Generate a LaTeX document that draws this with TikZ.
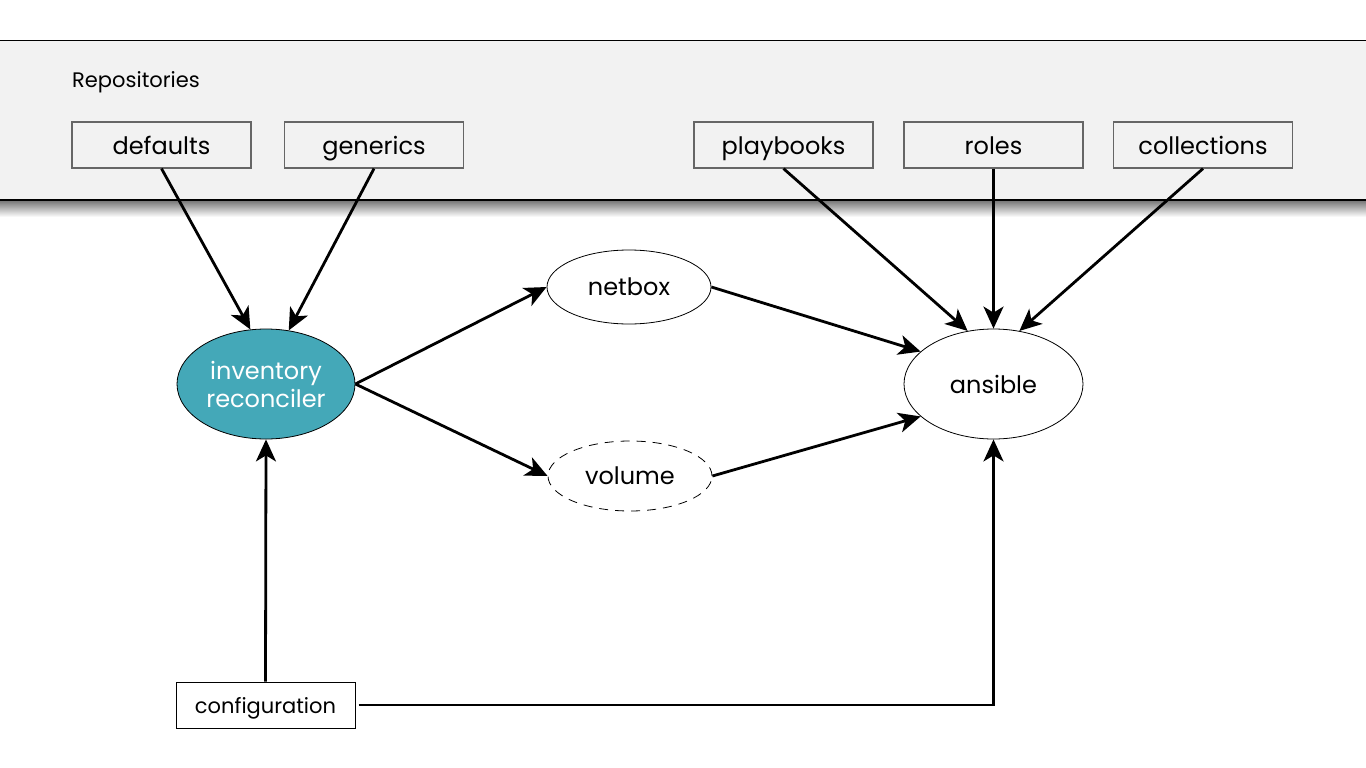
\documentclass[tikz,border=0pt]{standalone}
\usepackage{fontspec}
\setmainfont{Poppins}
\usetikzlibrary{arrows.meta,shapes.geometric}

\definecolor{teal}{HTML}{44A8B8}
\definecolor{band}{HTML}{F2F2F2}

\tikzstyle{repo} = [draw=black!60, line width=1.2pt, minimum width=179pt, minimum height=46pt, inner sep=0pt, text height=22pt, text depth=4pt, font=\fontsize{24}{28}\selectfont]
\tikzstyle{tool} = [draw, ellipse, line width=0.8pt, inner sep=0pt, font=\fontsize{24}{28}\selectfont]
\tikzstyle{arr} = [line width=2.8pt, -{Stealth[length=22pt,width=20pt,inset=6pt]}]

\begin{document}
\begin{tikzpicture}[x=1pt, y=-1pt]
\useasboundingbox (0,0) rectangle (1366,768);
%\draw[step=50, very thin,black!20] (0,0) grid (1366,768);
% repositories band
\fill[band] (-5,40) rectangle (1371,200);
\shade[top color=black!55, bottom color=white] (-5,200) rectangle (1371,217);
\draw[line width=0.8pt] (-5,40) -- (1371,40);
\draw[line width=1.5pt] (-5,200) -- (1371,200);
\node[anchor=west, inner sep=0pt, font=\fontsize{21}{24}\selectfont] (repos) at (72,82) {Repositories};

\node[repo] (defaults) at (161.5,145) {defaults};
\node[repo] (generics) at (374,145) {generics};
\node[repo] (playbooks) at (783.5,145) {playbooks};
\node[repo] (roles) at (993.5,145) {roles};
\node[repo] (collections) at (1203,145) {collections};

\node[tool, fill=teal, text=white, minimum width=178pt, minimum height=110pt, align=center] (inventory) at (266,384) {inventory\\reconciler};
\node[tool, minimum width=164pt, minimum height=74pt] (netbox) at (629,287) {netbox};
\node[tool, dashed, dash pattern=on 9pt off 7pt, minimum width=164pt, minimum height=70pt] (volume) at (630,476) {volume};
\node[tool, minimum width=179pt, minimum height=110pt] (ansible) at (993.5,384) {ansible};

\node[draw, line width=1pt, minimum width=179pt, minimum height=46pt, inner sep=0pt, text height=20pt, text depth=4pt, font=\fontsize{21}{24}\selectfont] (config) at (265.5,705) {configuration};

\draw[arr] (defaults.south) -- (inventory.106);
\draw[arr] (generics.south) -- (inventory.67);
\draw[arr] (inventory.east) -- (netbox.west);
\draw[arr] (inventory.east) -- (volume.west);
\draw[arr] (netbox.east) -- (ansible.156);
\draw[arr] (volume.east) -- (ansible.204);
\draw[arr] (playbooks.south) -- (ansible.116);
\draw[arr] (roles.south) -- (ansible.north);
\draw[arr] (collections.south) -- (ansible.64);
\draw[arr] (config.north) -- (inventory.south);
\draw[arr] (config.east) ++(3,0) -| (ansible.south);
\end{tikzpicture}
\end{document}
